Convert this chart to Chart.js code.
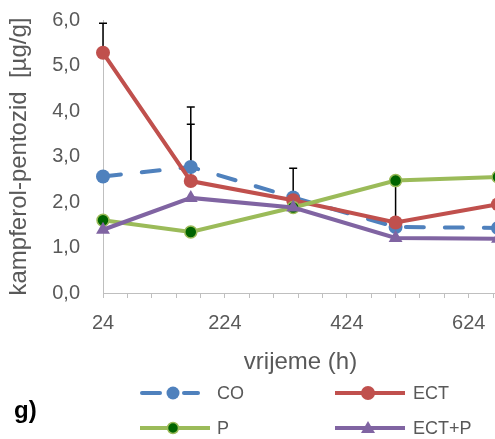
<!DOCTYPE html>
<html>
<head>
<meta charset="utf-8">
<script src="https://cdn.jsdelivr.net/npm/chart.js@4/dist/chart.umd.min.js"></script>
<style>
    html, body { margin: 0; padding: 0; overflow: hidden; background: #fff; }
    #wrap { position: relative; width: 495px; height: 439px; overflow: hidden; }
    #chart { position: absolute; left: 0; top: 0; }
    .leg { position: absolute; font: 18px 'Liberation Sans', Arial, sans-serif; color: #595959; line-height: 20px; white-space: nowrap; }
    .leg svg { position: absolute; left: 0; top: 0; }
    .leg span { position: absolute; top: 0; }
    #panel { position: absolute; left: 14px; top: 396px; font: bold 24px 'Liberation Sans', Arial, sans-serif; color: #000; }
</style>
</head>
<body>
<div id="wrap">
    <canvas id="chart" width="520" height="439"></canvas>
    <div id="panel">g)</div>
    <div class="leg" style="left:138px; top:383px;">
        <svg width="72" height="20"><line x1="4" y1="10" x2="22" y2="10" stroke="#4F81BD" stroke-width="4" stroke-linecap="round"/><line x1="46" y1="10" x2="60" y2="10" stroke="#4F81BD" stroke-width="4" stroke-linecap="round"/><circle cx="35" cy="10" r="6.5" fill="#4F81BD"/></svg>
        <span style="left:79px;">CO</span>
    </div>
    <div class="leg" style="left:333px; top:383px;">
        <svg width="76" height="20"><line x1="2" y1="10" x2="72" y2="10" stroke="#C0504D" stroke-width="4"/><circle cx="35" cy="10" r="7" fill="#C0504D"/></svg>
        <span style="left:80px;">ECT</span>
    </div>
    <div class="leg" style="left:138px; top:418px;">
        <svg width="76" height="20"><line x1="2" y1="10" x2="72" y2="10" stroke="#9BBB59" stroke-width="4"/><circle cx="35" cy="10" r="5.5" fill="#006400" stroke="#9BBB59" stroke-width="1.5"/></svg>
        <span style="left:79px;">P</span>
    </div>
    <div class="leg" style="left:333px; top:418px;">
        <svg width="76" height="20"><line x1="2" y1="10" x2="72" y2="10" stroke="#8064A2" stroke-width="4"/><polygon points="35,3 42,15 28,15" fill="#8064A2"/></svg>
        <span style="left:80px;">ECT+P</span>
    </div>
</div>
<script>
    // Data
    const times = [24, 168, 336, 504, 672];
    const coValues = [2.56, 2.77, 2.10, 1.45, 1.43];
    const ectValues = [5.28, 2.46, 2.04, 1.55, 1.95];
    const pValues = [1.60, 1.34, 1.88, 2.47, 2.55];
    const ectpValues = [1.39, 2.09, 1.88, 1.21, 1.19];

    // Upper error bars (only the plus side is drawn)
    const coErrors = [null, 0.94, null, null, null];
    const ectErrors = [0.65, 1.63, 0.70, 0.90, null];

    // Axis ticks
    const xTickLabels = [24, 224, 424, 624];
    const xMinorStep = 40;
    const yTicks = [0, 1, 2, 3, 4, 5, 6];

    const toPoints = values => values.map((v, i) => ({ x: times[i], y: v }));

    // Draws the plus error bars under the lines
    const errorBarPlugin = {
        id: 'errorBars',
        beforeDatasetsDraw(chart) {
            const ctx = chart.ctx;
            const x = chart.scales.x;
            const y = chart.scales.y;
            ctx.save();
            ctx.strokeStyle = '#000';
            ctx.lineWidth = 1.5;
            chart.data.datasets.forEach(ds => {
                if (!ds.errors) return;
                ds.data.forEach((p, i) => {
                    const err = ds.errors[i];
                    if (err == null) return;
                    const px = x.getPixelForValue(p.x);
                    const y0 = y.getPixelForValue(p.y);
                    const y1 = y.getPixelForValue(p.y + err);
                    ctx.beginPath();
                    ctx.moveTo(px, y0);
                    ctx.lineTo(px, y1);
                    ctx.moveTo(px - 4, y1);
                    ctx.lineTo(px + 4, y1);
                    ctx.stroke();
                });
            });
            ctx.restore();
        }
    };

    const tickFont = { family: "'Liberation Sans', Arial, sans-serif", size: 20 };
    const titleFont = { family: "'Liberation Sans', Arial, sans-serif", size: 24 };

    new Chart(document.getElementById('chart'), {
        type: 'line',
        data: {
            datasets: [
                {
                    label: 'CO',
                    data: toPoints(coValues),
                    errors: coErrors,
                    borderColor: '#4F81BD',
                    backgroundColor: '#4F81BD',
                    borderWidth: 4,
                    borderDash: [18, 21],
                    borderCapStyle: 'round',
                    pointRadius: 7,
                    pointBorderWidth: 0,
                    order: 4
                },
                {
                    label: 'ECT',
                    data: toPoints(ectValues),
                    errors: ectErrors,
                    borderColor: '#C0504D',
                    backgroundColor: '#C0504D',
                    borderWidth: 4,
                    pointRadius: 7,
                    pointBorderWidth: 0,
                    order: 3
                },
                {
                    label: 'P',
                    data: toPoints(pValues),
                    borderColor: '#9BBB59',
                    backgroundColor: '#006400',
                    pointBorderColor: '#9BBB59',
                    borderWidth: 4,
                    pointRadius: 6,
                    pointBorderWidth: 1.5,
                    order: 2
                },
                {
                    label: 'ECT+P',
                    data: toPoints(ectpValues),
                    borderColor: '#8064A2',
                    backgroundColor: '#8064A2',
                    borderWidth: 4,
                    pointStyle: 'triangle',
                    pointRadius: 8,
                    pointBorderWidth: 0,
                    order: 1
                }
            ]
        },
        options: {
            responsive: false,
            animation: false,
            devicePixelRatio: 1,
            clip: false,
            layout: { padding: { left: 2, right: 22, top: 0, bottom: 62 } },
            plugins: {
                legend: { display: false },
                tooltip: { enabled: false }
            },
            scales: {
                x: {
                    type: 'linear',
                    min: 24,
                    max: 672,
                    afterBuildTicks(scale) {
                        const ticks = [];
                        for (let v = 24; v <= 664; v += xMinorStep) ticks.push({ value: v });
                        scale.ticks = ticks;
                    },
                    afterFit(scale) {
                        scale.height = 84;
                    },
                    ticks: {
                        autoSkip: false,
                        maxRotation: 0,
                        color: '#595959',
                        font: tickFont,
                        padding: 13,
                        callback: v => xTickLabels.includes(v) ? String(v) : ''
                    },
                    grid: { drawOnChartArea: false, drawTicks: true, tickLength: 5, color: '#BFBFBF' },
                    border: { display: true, color: '#BFBFBF', width: 1 },
                    title: {
                        display: true,
                        text: 'vrijeme (h)',
                        color: '#595959',
                        font: titleFont,
                        padding: { top: 14, bottom: 0 }
                    }
                },
                y: {
                    min: 0,
                    max: 6,
                    afterBuildTicks(scale) {
                        scale.ticks = yTicks.map(v => ({ value: v }));
                    },
                    afterFit(scale) {
                        // fixed axis width and top room, like the original plot area
                        scale.width = 101;
                        scale.paddingTop = 20;
                    },
                    ticks: {
                        color: '#595959',
                        font: tickFont,
                        padding: 23,
                        callback: v => v.toFixed(1).replace('.', ',')
                    },
                    grid: { drawOnChartArea: false, drawTicks: false },
                    border: { display: true, color: '#BFBFBF', width: 1 },
                    title: {
                        display: true,
                        text: 'kampferol-pentozid  [µg/g]',
                        color: '#595959',
                        font: titleFont,
                        padding: { top: 3, bottom: 0 }
                    }
                }
            }
        },
        plugins: [errorBarPlugin]
    });
</script>
</body>
</html>
